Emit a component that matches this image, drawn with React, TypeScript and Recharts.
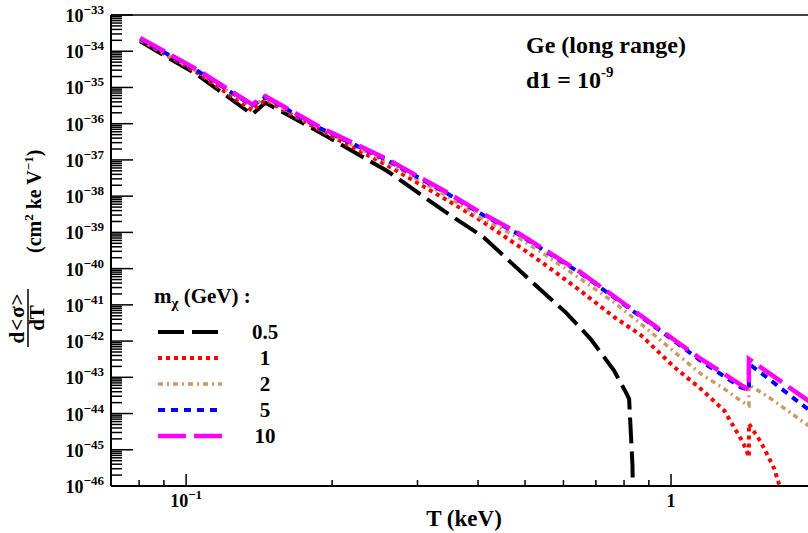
import { LineChart, Line, XAxis, YAxis, ReferenceLine, Legend } from 'recharts';

// recoil energy T (keV) shared by the 2, 5 and 10 GeV curves
const energyGrid = [
  0.0804, 0.1053, 0.1368, 0.1457, 0.1892, 0.2599, 0.3456, 0.4049, 0.482, 0.5515, 0.6515,
  0.763, 0.8662, 1.0148, 1.1522, 1.2872, 1.3932, 1.4474, 1.4474, 1.5823, 1.8532, 2.0,
];

// d<sigma>/dT in cm^2 keV^-1
const rate10GeV = [
  2.34e-34, 3.13e-35, 3.4e-36, 5.75e-36, 7.91e-37, 1.04e-37, 1.26e-38, 3.53e-39, 9.93e-40, 3.19e-40, 7.85e-41,
  1.71e-41, 5.04e-42, 1.09e-42, 3.21e-43, 1.24e-43, 6.18e-44, 4.5e-44, 3.21e-43, 1.39e-43, 3.13e-44, 1.53e-44,
];
const rate5GeV = [
  2.2e-34, 2.94e-35, 3.19e-36, 5.41e-36, 7.41e-37, 9.75e-38, 1.18e-38, 3.32e-39, 9.33e-40, 3.0e-40, 7.38e-41,
  1.61e-41, 4.73e-42, 1.01e-42, 2.83e-43, 1.06e-43, 5.27e-44, 4.5e-44, 2.34e-43, 9.62e-44, 1.85e-44, 8.65e-45,
];
const rate2GeV = [
  2.06e-34, 2.76e-35, 3.0e-36, 5.07e-36, 6.97e-37, 8.59e-38, 9.93e-39, 2.54e-39, 7.38e-40, 2.36e-40, 5.14e-41,
  1.17e-41, 3.03e-42, 5.1e-43, 1.24e-43, 4.79e-44, 2.24e-44, 1.66e-44, 6.18e-44, 2.96e-44, 6.53e-45, 3.24e-45,
];

// 1 GeV runs into its kinematic end point just above the L edge
const energy1GeV = [
  0.0804, 0.1053, 0.1368, 0.1457, 0.1892, 0.2599, 0.3456, 0.4049, 0.482, 0.5515, 0.6515, 0.763, 0.8662,
  1.0148, 1.1522, 1.2872, 1.3932, 1.4268, 1.4474, 1.4474, 1.5323, 1.5823, 1.6326, 1.6735, 1.72,
];
const rate1GeV = [
  2.04e-34, 2.59e-35, 2.32e-36, 4.53e-36, 6.53e-37, 7.1e-38, 7.71e-39, 2.17e-39, 4.44e-40, 1.25e-40, 2.4e-41,
  4.61e-42, 1.47e-42, 1.93e-43, 4.79e-44, 1.21e-44, 2.01e-45, 1.07e-45, 6.3e-46, 5.2e-45, 1.63e-45, 6.97e-46,
  3.0e-46, 1.02e-46, 1.28e-47,
];

// 0.5 GeV cuts off below 1 keV
const energy05GeV = [
  0.0804, 0.1053, 0.1368, 0.1457, 0.1892, 0.2599, 0.3401, 0.4113, 0.5177, 0.6064, 0.6829, 0.763, 0.8066,
  0.8195, 0.8328, 0.836,
];
const rate05GeV = [
  1.88e-34, 2.28e-35, 1.8e-36, 3.79e-36, 5.65e-37, 4.94e-38, 3.91e-39, 7.24e-40, 4.17e-41, 6.21e-42, 1.14e-42,
  1.53e-43, 3.89e-44, 2.54e-44, 3.69e-46, 1.0e-47,
];

const massLabels = ['0.5', '1', '2', '5', '10'];
const yExponents = [-46, -45, -44, -43, -42, -41, -40, -39, -38, -37, -36, -35, -34, -33];
const xMajorTicks = [0.1, 1];
const xMinorTicks = [0.08, 0.09, 0.2, 0.3, 0.4, 0.5, 0.6, 0.7, 0.8, 0.9, 2];
const xTickLabels: Record<string, [string, string]> = { '0.1': ['10', '\u22121'], '1': ['1', ''] };

const FONT = '"Liberation Serif", "Times New Roman", serif';

const zip = (t: number[], v: number[]) => t.map((x, i) => ({ t: x, v: v[i] }));

const SERIES = [
  { name: massLabels[0], data: zip(energy05GeV, rate05GeV), color: '#000000', width: 4, dash: '26 8' },
  { name: massLabels[1], data: zip(energy1GeV, rate1GeV), color: '#ff0000', width: 4, dash: '4 4' },
  { name: massLabels[2], data: zip(energyGrid, rate2GeV), color: '#cc9966', width: 3.5, dash: '5 4 2 4' },
  { name: massLabels[3], data: zip(energyGrid, rate5GeV), color: '#0000ff', width: 4, dash: '7 6' },
  { name: massLabels[4], data: zip(energyGrid, rate10GeV), color: '#ff00ff', width: 4.5, dash: '28 8' },
];

const yTicks: number[] = [];
yExponents.forEach((e) => {
  yTicks.push(Math.pow(10, e));
  if (e < -33) for (let m = 2; m <= 9; m++) yTicks.push(m * Math.pow(10, e));
});
const xTicks = [...xMajorTicks, ...xMinorTicks].sort((a, b) => a - b);

function YTick({ x, y, payload }: any) {
  const exp = Math.log10(payload.value);
  const major = Math.abs(exp - Math.round(exp)) < 1e-6;
  return (
    <g>
      <line x1={x} x2={x + (major ? 22 : 11)} y1={y} y2={y} stroke="#000" strokeWidth={1.5} />
      {major && (
        <text x={x - 7} y={y + 7} textAnchor="end" fontFamily={FONT} fontWeight="bold" fontSize={18} fill="#000">
          10
          <tspan dy={-8} fontSize={13}>{`\u2212${-Math.round(exp)}`}</tspan>
        </text>
      )}
    </g>
  );
}

function XTick({ x, y, payload }: any) {
  const label = xTickLabels[String(payload.value)];
  return (
    <g>
      <line x1={x} x2={x} y1={y} y2={y - (label ? 12 : 6)} stroke="#000" strokeWidth={1.5} />
      {label && (
        <text x={x} y={y + 21} textAnchor="middle" fontFamily={FONT} fontWeight="bold" fontSize={18} fill="#000">
          {label[0]}
          {label[1] && (
            <tspan dy={-8} fontSize={13}>
              {label[1]}
            </tspan>
          )}
        </text>
      )}
    </g>
  );
}

function MassLegend() {
  return (
    <svg width={170} height={175} style={{ display: 'block' }}>
      <text x={9} y={23} fontFamily={FONT} fontWeight="bold" fontSize={21} fill="#000">
        m
        <tspan dy={5} fontSize={15}>
          χ
        </tspan>
        <tspan dy={-5}> (GeV) :</tspan>
      </text>
      {SERIES.map((s, i) => {
        const cy = 52 + i * 26;
        return (
          <g key={s.name}>
            <line x1={13} x2={77} y1={cy} y2={cy} stroke={s.color} strokeWidth={s.width} strokeDasharray={s.dash} />
            <text x={120} y={cy + 7} textAnchor="middle" fontFamily={FONT} fontWeight="bold" fontSize={21} fill="#000">
              {s.name}
            </text>
          </g>
        );
      })}
    </svg>
  );
}

export default function App() {
  return (
    <div style={{ position: 'fixed', left: 0, top: 0, width: 808, height: 533, overflow: 'hidden', background: '#fff' }}>
      <div style={{ position: 'relative' }}>
        <LineChart width={820} height={533} margin={{ top: 15, right: 3, bottom: 0, left: 0 }}>
          <XAxis
            type="number"
            dataKey="t"
            scale="log"
            domain={[0.07, 2]}
            allowDataOverflow
            ticks={xTicks}
            interval={0}
            tick={<XTick />}
            tickLine={false}
            tickSize={0}
            tickMargin={0}
            axisLine={{ stroke: '#000', strokeWidth: 2 }}
            height={47}
          />
          <YAxis
            type="number"
            scale="log"
            domain={[1e-46, 1e-33]}
            allowDataOverflow
            ticks={yTicks}
            interval={0}
            tick={<YTick />}
            tickLine={false}
            tickSize={0}
            tickMargin={0}
            axisLine={{ stroke: '#000', strokeWidth: 2 }}
            width={111}
          />
          <ReferenceLine y={1e-33} stroke="#444" strokeWidth={2} />
          {SERIES.map((s) => (
            <Line
              key={s.name}
              data={s.data}
              dataKey="v"
              name={s.name}
              type="linear"
              stroke={s.color}
              strokeWidth={s.width}
              strokeDasharray={s.dash}
              dot={false}
              activeDot={false}
              isAnimationActive={false}
            />
          ))}
          <Legend
            layout="vertical"
            align="center"
            verticalAlign="middle"
            content={() => <MassLegend />}
            wrapperStyle={{ left: 145, top: 280, width: 170, height: 175 }}
          />
        </LineChart>
        <svg
          width={808}
          height={533}
          style={{ position: 'absolute', left: 0, top: 0, pointerEvents: 'none' }}
          fontFamily={FONT}
          fontWeight="bold"
          fill="#000"
        >
          <text x={526} y={53} fontSize={24}>
            Ge (long range)
          </text>
          <text x={526} y={88} fontSize={24}>
            d1 = 10
            <tspan dy={-11} fontSize={15}>
              -9
            </tspan>
          </text>
          <text x={464} y={526} fontSize={23} textAnchor="middle">
            T (keV)
          </text>
          <g transform="rotate(-90)" fontSize={21}>
            <text x={-318} y={24} textAnchor="middle" letterSpacing={1}>
              d&lt;σ&gt;
            </text>
            <line x1={-347} x2={-289} y1={28} y2={28} stroke="#000" strokeWidth={1.5} />
            <text x={-318} y={44} textAnchor="middle">
              dT
            </text>
            <text x={-253} y={41} fontSize={20}>
              (cm
              <tspan dy={-8} fontSize={13}>
                2
              </tspan>
              <tspan dy={8}> ke V</tspan>
              <tspan dy={-8} fontSize={13}>
                −1
              </tspan>
              <tspan dy={8}>)</tspan>
            </text>
          </g>
        </svg>
      </div>
    </div>
  );
}
